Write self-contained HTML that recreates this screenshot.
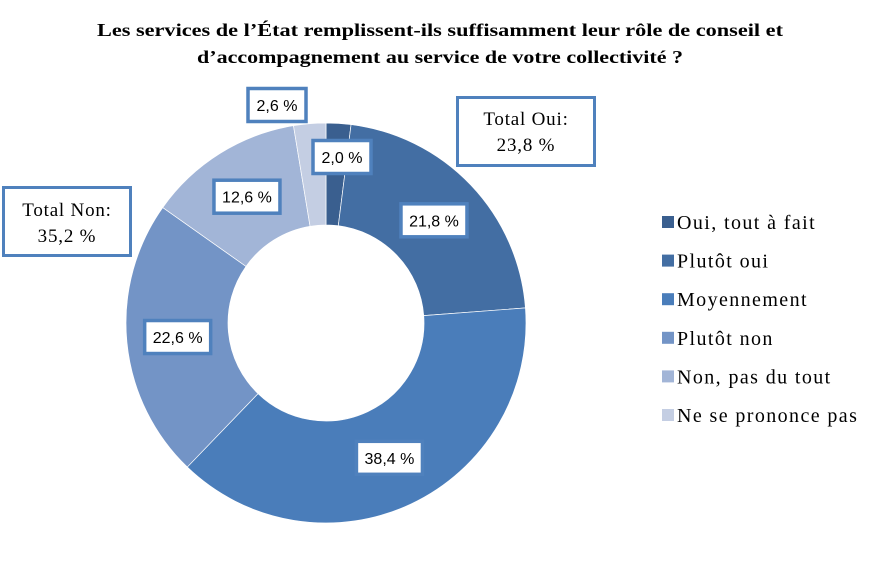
<!DOCTYPE html>
<html><head><meta charset="utf-8"><style>
body{margin:0;background:#fff;}
svg text{font-family:"Liberation Serif",serif;}
.lbl{font-family:"Liberation Sans",sans-serif;font-size:16px;fill:#000;}
</style></head><body>
<svg id="chart" width="880" height="577" xmlns="http://www.w3.org/2000/svg">
<rect width="880" height="577" fill="#fff"/>
<text x="97" y="36" textLength="686" lengthAdjust="spacingAndGlyphs" font-weight="bold" font-size="18">Les services de l’État remplissent-ils suffisamment leur rôle de conseil et</text>
<text x="197" y="63" textLength="486" lengthAdjust="spacingAndGlyphs" font-weight="bold" font-size="18">d’accompagnement au service de votre collectivité ?</text>
<g id="slices"></g>
<g id="labels"></g>
<g id="legend"></g>
<g>
<rect x="457.5" y="97.5" width="137" height="68" fill="#fff" stroke="#4F81BD" stroke-width="3"/>
<text x="526" y="125" text-anchor="middle" font-size="19" letter-spacing="0.8">Total Oui:</text>
<text x="526" y="151" text-anchor="middle" font-size="19" letter-spacing="0.8">23,8 %</text>
</g>
<g>
<rect x="3.5" y="187.5" width="127" height="68" fill="#fff" stroke="#4F81BD" stroke-width="3"/>
<text x="67" y="216" text-anchor="middle" font-size="19" letter-spacing="0.8">Total Non:</text>
<text x="67" y="242" text-anchor="middle" font-size="19" letter-spacing="0.8">35,2 %</text>
</g>
</svg>
<script>
const categories=["Oui, tout à fait","Plutôt oui","Moyennement","Plutôt non","Non, pas du tout","Ne se prononce pas"];
const values=[2.0,21.8,38.4,22.6,12.6,2.6];
const valueLabels=["2,0 %","21,8 %","38,4 %","22,6 %","12,6 %","2,6 %"];
const colors=["#3A5F8F","#436EA3","#4A7DBA","#7394C6","#A2B5D7","#C4CEE3"];
const NS="http://www.w3.org/2000/svg";
const cx=326,cy=323,R=200,r=98;
const total=values.reduce((a,b)=>a+b,0);
function pt(a,rad){return [cx+rad*Math.sin(a),cy-rad*Math.cos(a)];}
const gS=document.getElementById('slices'),gL=document.getElementById('labels'),gLeg=document.getElementById('legend');
let acc=0;
values.forEach((v,i)=>{
  const a0=acc/total*2*Math.PI; acc+=v; const a1=acc/total*2*Math.PI;
  const large=(a1-a0)>Math.PI?1:0;
  const p0=pt(a0,R),p1=pt(a1,R),q1=pt(a1,r),q0=pt(a0,r);
  const p=document.createElementNS(NS,'path');
  p.setAttribute('d',`M${p0[0]},${p0[1]}A${R},${R} 0 ${large} 1 ${p1[0]},${p1[1]}L${q1[0]},${q1[1]}A${r},${r} 0 ${large} 0 ${q0[0]},${q0[1]}Z`);
  p.setAttribute('fill',colors[i]);p.setAttribute('stroke','#fff');p.setAttribute('stroke-width','0.7');
  
  
  gS.appendChild(p);
  const am=(a0+a1)/2;
  let c=pt(am,149);
  if(i===0){c=[cx+16,cy-166];}
  if(i===values.length-1){c=[cx-49,cy-218];}
  const w=valueLabels[i].length>5?66:58,h=33;
  const g=document.createElementNS(NS,'g');
  
  
  const rc=document.createElementNS(NS,'rect');
  rc.setAttribute('x',c[0]-w/2);rc.setAttribute('y',c[1]-h/2);rc.setAttribute('width',w);rc.setAttribute('height',h);
  rc.setAttribute('fill','#fff');rc.setAttribute('stroke','#4F81BD');rc.setAttribute('stroke-width','3.5');
  g.appendChild(rc);
  const t=document.createElementNS(NS,'text');
  t.setAttribute('x',c[0]);t.setAttribute('y',c[1]+6);t.setAttribute('text-anchor','middle');t.setAttribute('class','lbl');
  t.textContent=valueLabels[i];g.appendChild(t);
  gL.appendChild(g);
  const lg=document.createElementNS(NS,'g');
  
  
  const y=227+i*38.6;
  const sq=document.createElementNS(NS,'rect');
  sq.setAttribute('x',662);sq.setAttribute('y',y-11);sq.setAttribute('width',12);sq.setAttribute('height',12);sq.setAttribute('fill',colors[i]);
  lg.appendChild(sq);
  const lt=document.createElementNS(NS,'text');
  lt.setAttribute('x',677);lt.setAttribute('y',y+2);lt.setAttribute('font-size','20');lt.setAttribute('letter-spacing','1.4');
  lt.textContent=categories[i];lg.appendChild(lt);
  gLeg.appendChild(lg);
});
</script>
</body></html>
